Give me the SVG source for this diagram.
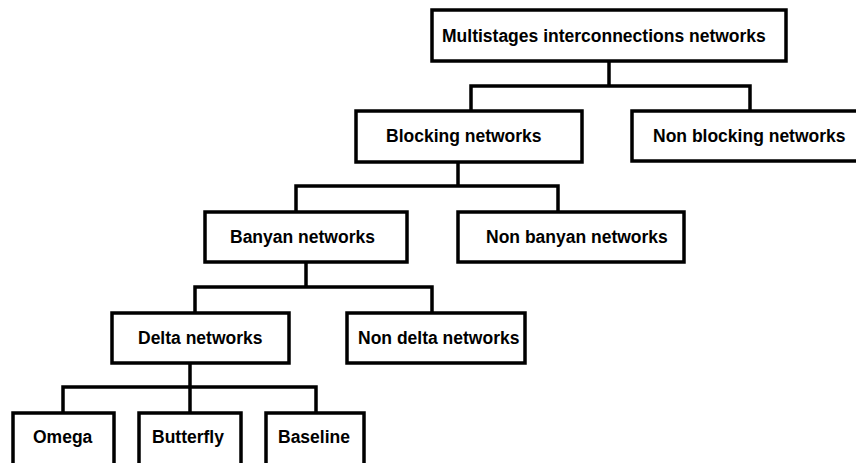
<svg xmlns="http://www.w3.org/2000/svg" width="856" height="463" viewBox="0 0 856 463">
<style>
.box{fill:#fff;stroke:#000;stroke-width:3.5;stroke-linejoin:miter}
.lbl{font-family:"Liberation Sans",Arial,sans-serif;font-weight:bold;font-size:17.5px;fill:#000}
.con{fill:none;stroke:#000;stroke-width:3.5;stroke-linejoin:miter;stroke-linecap:square}
</style>
<rect width="856" height="463" fill="#fff"/>
<g id="connectors">
<path class="con" d="M609,61V86M471,111V86H750V111"/>
<path class="con" d="M458,162V186M296,212V186H558V212"/>
<path class="con" d="M306,262V287M195,313V287H432V313"/>
<path class="con" d="M190,363V413M63,413V387H316V413"/>
</g>
<g id="n-multistages"><rect class="box" x="432" y="10" width="354" height="51"/><text class="lbl" x="442" y="42">Multistages interconnections networks</text></g>
<g id="n-blocking"><rect class="box" x="356" y="111" width="226" height="51"/><text class="lbl" x="386" y="142">Blocking networks</text></g>
<g id="n-nonblocking"><rect class="box" x="632" y="111" width="240" height="50"/><text class="lbl" x="653" y="142">Non blocking networks</text></g>
<g id="n-banyan"><rect class="box" x="205" y="212" width="202" height="50"/><text class="lbl" x="230" y="243">Banyan networks</text></g>
<g id="n-nonbanyan"><rect class="box" x="458" y="212" width="226" height="50"/><text class="lbl" x="486" y="243">Non banyan networks</text></g>
<g id="n-delta"><rect class="box" x="112" y="313" width="177" height="50"/><text class="lbl" x="138" y="344">Delta networks</text></g>
<g id="n-nondelta"><rect class="box" x="347" y="313" width="178" height="50"/><text class="lbl" x="358" y="344">Non delta networks</text></g>
<g id="n-omega"><rect class="box" x="13" y="413" width="101" height="60"/><text class="lbl" x="33" y="443">Omega</text></g>
<g id="n-butterfly"><rect class="box" x="139" y="413" width="102" height="60"/><text class="lbl" x="152" y="443">Butterfly</text></g>
<g id="n-baseline"><rect class="box" x="266" y="413" width="98" height="60"/><text class="lbl" x="278" y="443">Baseline</text></g>
</svg>
